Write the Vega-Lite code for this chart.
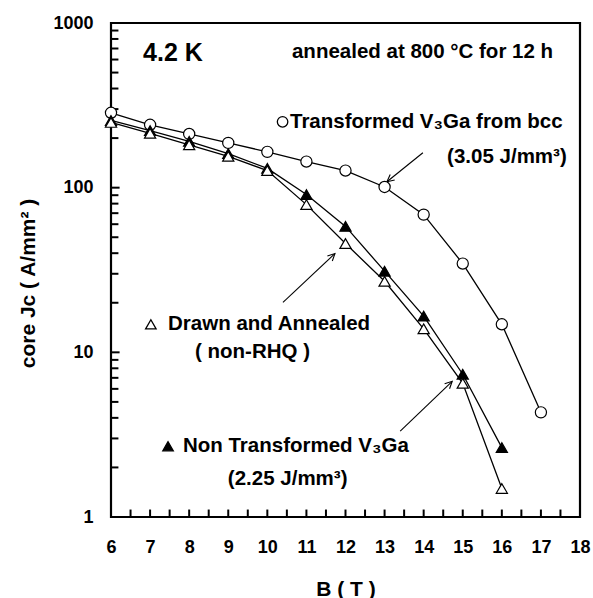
{
  "$schema": "https://vega.github.io/schema/vega-lite/v6.json",
  "width": 469,
  "height": 494,
  "autosize": {"type": "none"},
  "padding": {"left": 111, "top": 23, "right": 13, "bottom": 81},
  "background": "white",
  "config": {
    "view": {"stroke": "black", "strokeWidth": 2.2},
    "font": "Liberation Sans",
    "axis": {
      "domain": false,
      "ticks": false,
      "grid": false,
      "labelFont": "Liberation Sans", "labelFontWeight": "bold", "labelFontSize": 18, "labelColor": "black",
      "titleFont": "Liberation Sans", "titleFontWeight": "bold", "titleFontSize": 21, "titleColor": "black",
      "labelOverlap": false, "labelFlush": false, "labelBound": false
    }
  },
  "datasets": {
    "curves": [
      {"series": "Transformed", "B": 6, "Jc": 285},
      {"series": "Transformed", "B": 7, "Jc": 241},
      {"series": "Transformed", "B": 8, "Jc": 212},
      {"series": "Transformed", "B": 9, "Jc": 187},
      {"series": "Transformed", "B": 10, "Jc": 165},
      {"series": "Transformed", "B": 11, "Jc": 144},
      {"series": "Transformed", "B": 12, "Jc": 127},
      {"series": "Transformed", "B": 13, "Jc": 101},
      {"series": "Transformed", "B": 14, "Jc": 68.6},
      {"series": "Transformed", "B": 15, "Jc": 34.6},
      {"series": "Transformed", "B": 16, "Jc": 14.8},
      {"series": "Transformed", "B": 17, "Jc": 4.32},
      {"series": "NonTransformed", "B": 6, "Jc": 256},
      {"series": "NonTransformed", "B": 7, "Jc": 222},
      {"series": "NonTransformed", "B": 8, "Jc": 191},
      {"series": "NonTransformed", "B": 9, "Jc": 161},
      {"series": "NonTransformed", "B": 10, "Jc": 131},
      {"series": "NonTransformed", "B": 11, "Jc": 90.8},
      {"series": "NonTransformed", "B": 12, "Jc": 58.2},
      {"series": "NonTransformed", "B": 13, "Jc": 31.1},
      {"series": "NonTransformed", "B": 14, "Jc": 16.6},
      {"series": "NonTransformed", "B": 15, "Jc": 7.36},
      {"series": "NonTransformed", "B": 16, "Jc": 2.64},
      {"series": "Drawn", "B": 6, "Jc": 249},
      {"series": "Drawn", "B": 7, "Jc": 214},
      {"series": "Drawn", "B": 8, "Jc": 182},
      {"series": "Drawn", "B": 9, "Jc": 155},
      {"series": "Drawn", "B": 10, "Jc": 127},
      {"series": "Drawn", "B": 11, "Jc": 78.9},
      {"series": "Drawn", "B": 12, "Jc": 45.8},
      {"series": "Drawn", "B": 13, "Jc": 27},
      {"series": "Drawn", "B": 14, "Jc": 13.9},
      {"series": "Drawn", "B": 15, "Jc": 6.48},
      {"series": "Drawn", "B": 16, "Jc": 1.49}
    ],
    "xticks": [
      {"B": 6.5, "lo": 1, "hi": 1.11}, {"B": 7, "lo": 1, "hi": 1.11}, {"B": 7.5, "lo": 1, "hi": 1.11}, {"B": 8, "lo": 1, "hi": 1.11},
      {"B": 8.5, "lo": 1, "hi": 1.11}, {"B": 9, "lo": 1, "hi": 1.11}, {"B": 9.5, "lo": 1, "hi": 1.11}, {"B": 10, "lo": 1, "hi": 1.11},
      {"B": 10.5, "lo": 1, "hi": 1.11}, {"B": 11, "lo": 1, "hi": 1.11}, {"B": 11.5, "lo": 1, "hi": 1.11}, {"B": 12, "lo": 1, "hi": 1.11},
      {"B": 12.5, "lo": 1, "hi": 1.11}, {"B": 13, "lo": 1, "hi": 1.11}, {"B": 13.5, "lo": 1, "hi": 1.11}, {"B": 14, "lo": 1, "hi": 1.11},
      {"B": 14.5, "lo": 1, "hi": 1.11}, {"B": 15, "lo": 1, "hi": 1.11}, {"B": 15.5, "lo": 1, "hi": 1.11}, {"B": 16, "lo": 1, "hi": 1.11},
      {"B": 16.5, "lo": 1, "hi": 1.11}, {"B": 17, "lo": 1, "hi": 1.11}, {"B": 17.5, "lo": 1, "hi": 1.11}
    ],
    "yticks": [
      {"Jc": 2, "lo": 6, "hi": 6.19}, {"Jc": 3, "lo": 6, "hi": 6.19}, {"Jc": 4, "lo": 6, "hi": 6.19}, {"Jc": 5, "lo": 6, "hi": 6.19},
      {"Jc": 6, "lo": 6, "hi": 6.19}, {"Jc": 7, "lo": 6, "hi": 6.19}, {"Jc": 8, "lo": 6, "hi": 6.19}, {"Jc": 9, "lo": 6, "hi": 6.19},
      {"Jc": 10, "lo": 6, "hi": 6.22}, {"Jc": 20, "lo": 6, "hi": 6.19}, {"Jc": 30, "lo": 6, "hi": 6.19}, {"Jc": 40, "lo": 6, "hi": 6.19},
      {"Jc": 50, "lo": 6, "hi": 6.19}, {"Jc": 60, "lo": 6, "hi": 6.19}, {"Jc": 70, "lo": 6, "hi": 6.19}, {"Jc": 80, "lo": 6, "hi": 6.19},
      {"Jc": 90, "lo": 6, "hi": 6.19}, {"Jc": 100, "lo": 6, "hi": 6.22}, {"Jc": 200, "lo": 6, "hi": 6.19}, {"Jc": 300, "lo": 6, "hi": 6.19},
      {"Jc": 400, "lo": 6, "hi": 6.19}, {"Jc": 500, "lo": 6, "hi": 6.19}, {"Jc": 600, "lo": 6, "hi": 6.19}, {"Jc": 700, "lo": 6, "hi": 6.19},
      {"Jc": 800, "lo": 6, "hi": 6.19}, {"Jc": 900, "lo": 6, "hi": 6.19}
    ],
    "symbols": [
      {"series": "Transformed", "B": 10.39, "Jc": 251},
      {"series": "Drawn", "B": 7.02, "Jc": 14.8},
      {"series": "NonTransformed", "B": 7.46, "Jc": 2.69}
    ],
    "arrows": [
      {"id": "a1", "B": 13.98, "Jc": 163, "B2": 13.06, "Jc2": 108.6},
      {"id": "a2", "B": 10.40, "Jc": 20.1, "B2": 11.73, "Jc2": 39.8},
      {"id": "a3", "B": 13.40, "Jc": 3.32, "B2": 14.73, "Jc2": 6.67}
    ],
    "labels": [
      {"B": 10.63, "Jc": 667, "text": "annealed at 800 °C for 12 h"},
      {"B": 10.58, "Jc": 251, "text": "Transformed V₃Ga from bcc"},
      {"B": 14.60, "Jc": 154, "text": "(3.05 J/mm³)"},
      {"B": 7.46, "Jc": 14.8, "text": "Drawn and Annealed"},
      {"B": 8.15, "Jc": 10, "text": "( non-RHQ )"},
      {"B": 7.84, "Jc": 2.69, "text": "Non Transformed V₃Ga"},
      {"B": 8.99, "Jc": 1.70, "text": "(2.25 J/mm³)"}
    ],
    "title": [
      {"B": 6.82, "Jc": 658, "text": "4.2 K"}
    ]
  },
  "encoding": {
    "x": {
      "field": "B", "type": "quantitative",
      "scale": {"domain": [6, 18], "nice": false, "zero": false},
      "axis": {
        "title": "B ( T )",
        "values": [6, 7, 8, 9, 10, 11, 12, 13, 14, 15, 16, 17, 18],
        "format": "d",
        "labelOverlap": false,
        "labelPadding": 21,
        "titleY": 78,
        "titleBaseline": "alphabetic"
      }
    },
    "y": {
      "field": "Jc", "type": "quantitative",
      "scale": {"type": "log", "domain": [1, 1000], "nice": false},
      "axis": {
        "title": "core Jc ( A/mm² )",
        "values": [1, 10, 100, 1000],
        "format": "d",
        "labelOverlap": false,
        "labelPadding": 18,
        "titleAngle": 270,
        "titleX": -77,
        "titleY": 260,
        "titleAlign": "center",
        "titleBaseline": "alphabetic"
      }
    }
  },
  "layer": [
    {
      "data": {"name": "xticks"},
      "mark": {"type": "rule", "color": "black", "strokeWidth": 2},
      "encoding": {
        "x": {"field": "B", "type": "quantitative"},
        "y": {"field": "lo", "type": "quantitative"},
        "y2": {"field": "hi"}
      }
    },
    {
      "data": {"name": "yticks"},
      "mark": {"type": "rule", "color": "black", "strokeWidth": 2},
      "encoding": {
        "x": {"field": "lo", "type": "quantitative"},
        "x2": {"field": "hi"},
        "y": {"field": "Jc", "type": "quantitative"}
      }
    },
    {
      "data": {"name": "curves"},
      "mark": {"type": "line", "color": "black", "strokeWidth": 1.3},
      "encoding": {
        "detail": {"field": "series"}
      }
    },
    {
      "data": {"name": "arrows"},
      "mark": {"type": "rule", "color": "black", "strokeWidth": 1.1},
      "encoding": {
        "x2": {"field": "B2"},
        "y2": {"field": "Jc2"}
      }
    },
    {
      "data": {"name": "arrows"},
      "transform": [{"filter": "datum.id == 'a1'"}],
      "mark": {"type": "point", "shape": "M -0.6 1.2 L 0 0 L 0.6 1.2", "filled": false, "stroke": "black", "strokeWidth": 1.1, "size": 140, "angle": 231, "opacity": 1},
      "encoding": {
        "x": {"field": "B2", "type": "quantitative"},
        "y": {"field": "Jc2", "type": "quantitative"}
      }
    },
    {
      "data": {"name": "arrows"},
      "transform": [{"filter": "datum.id != 'a1'"}],
      "mark": {"type": "point", "shape": "M -0.6 1.2 L 0 0 L 0.6 1.2", "filled": false, "stroke": "black", "strokeWidth": 1.1, "size": 140, "angle": 46, "opacity": 1},
      "encoding": {
        "x": {"field": "B2", "type": "quantitative"},
        "y": {"field": "Jc2", "type": "quantitative"}
      }
    },
    {
      "data": {"name": "curves"},
      "mark": {"type": "point", "stroke": "black", "strokeWidth": 1.2, "opacity": 1, "size": 125},
      "encoding": {
        "shape": {"field": "series", "type": "nominal", "scale": {"domain": ["Transformed", "NonTransformed", "Drawn"], "range": ["circle", "triangle-up", "triangle-up"]}, "legend": null},
        "fill": {"field": "series", "type": "nominal", "scale": {"domain": ["Transformed", "NonTransformed", "Drawn"], "range": ["white", "black", "white"]}, "legend": null}
      }
    },
    {
      "data": {"name": "symbols"},
      "mark": {"type": "point", "stroke": "black", "strokeWidth": 1.3, "opacity": 1, "size": 110},
      "encoding": {
        "shape": {"field": "series", "type": "nominal", "legend": null},
        "fill": {"field": "series", "type": "nominal", "legend": null}
      }
    },
    {
      "data": {"name": "labels"},
      "mark": {"type": "text", "align": "left", "baseline": "middle", "font": "Liberation Sans", "fontWeight": "bold", "fontSize": 20.5, "color": "black"},
      "encoding": {
        "text": {"field": "text"}
      }
    },
    {
      "data": {"name": "title"},
      "mark": {"type": "text", "align": "left", "baseline": "middle", "font": "Liberation Sans", "fontWeight": "bold", "fontSize": 25, "color": "black"},
      "encoding": {
        "text": {"field": "text"}
      }
    }
  ]
}
